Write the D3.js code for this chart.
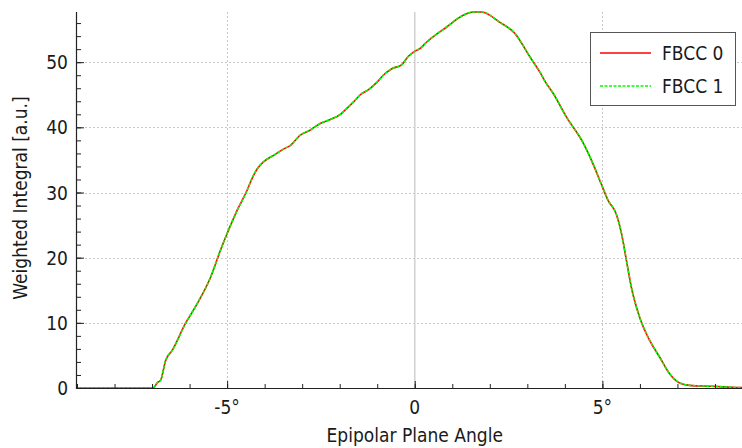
<!DOCTYPE html>
<html>
<head>
<meta charset="utf-8">
<script src="https://cdn.jsdelivr.net/npm/d3@7"></script>
<style>
  html, body { margin: 0; padding: 0; background: #fff; }
  svg { display: block; }
  text { font-family: "DejaVu Sans Condensed", "DejaVu Sans", sans-serif; font-stretch: condensed; fill: #1a1a1a; }
</style>
</head>
<body>
<svg id="chart" width="742" height="448"></svg>
<script>
// Epipolar plane angle (degrees)
const angles = [
  -9.00, -8.00, -7.50, -7.00, -6.95, -6.86, -6.77, -6.64, -6.46, -6.11,
  -5.80, -5.44, -5.18, -5.00, -4.73, -4.47, -4.34, -4.20, -4.03, -3.76,
  -3.49, -3.32, -3.05, -2.78, -2.52, -2.25, -1.98, -1.81, -1.63, -1.45,
  -1.23, -1.01, -0.84, -0.61, -0.35, -0.17, 0.01, 0.14, 0.32, 0.85,
  1.29, 1.56, 1.78, 2.27, 2.67, 3.07, 3.33, 3.51, 3.69, 4.04,
  4.48, 4.75, 4.97, 5.15, 5.37, 5.51, 5.64, 5.77, 5.99, 6.26,
  6.52, 6.79, 7.06, 7.32, 7.94, 8.65, 8.72
];

// Weighted integral per channel [a.u.]
const fbcc0 = [
  0, 0, 0, 0, 0.1, 0.8, 1.2, 4.2, 5.8, 9.9,
  12.9, 17.0, 21.1, 23.7, 27.3, 30.3, 32.1, 33.6, 34.7, 35.7,
  36.7, 37.2, 38.8, 39.6, 40.6, 41.2, 42.0, 42.9, 43.9, 45.0,
  45.8, 46.9, 48.0, 49.0, 49.6, 50.9, 51.7, 52.1, 53.1, 55.4,
  57.2, 57.7, 57.7, 56.1, 54.4, 50.8, 48.5, 46.7, 45.2, 41.6,
  37.7, 34.4, 31.3, 28.8, 26.7, 23.7, 19.6, 15.5, 10.9, 7.3,
  4.8, 2.2, 0.77, 0.41, 0.26, 0.06, 0.05
];
const fbcc1 = [
  0, 0, 0, 0, 0.1, 0.8, 1.2, 4.2, 5.8, 9.9,
  12.9, 17.0, 21.1, 23.7, 27.3, 30.3, 32.1, 33.6, 34.7, 35.7,
  36.7, 37.2, 38.8, 39.6, 40.6, 41.2, 42.0, 42.9, 43.9, 45.0,
  45.8, 46.9, 48.0, 49.0, 49.6, 50.9, 51.7, 52.1, 53.1, 55.4,
  57.2, 57.7, 57.7, 56.1, 54.4, 50.8, 48.5, 46.7, 45.2, 41.6,
  37.7, 34.4, 31.3, 28.8, 26.7, 23.7, 19.6, 15.5, 10.9, 7.3,
  4.8, 2.2, 0.77, 0.41, 0.26, 0.06, 0.05
];

const seriesNames = ["FBCC 0", "FBCC 1"];
const xMajorTicks = [-5, 0, 5];
const xTickLabels = ["-5°", "0", "5°"];
const yMajorTicks = [0, 10, 20, 30, 40, 50];

const svg = d3.select("#chart");
const plotLeft = 77, plotRight = 742, plotTop = 12, plotBottom = 388;

const x = d3.scaleLinear().domain([-9, 8.72]).range([plotLeft, plotRight]);
const y = d3.scaleLinear().domain([0, 57.7]).range([plotBottom, plotTop]);

// grid
const grid = svg.append("g");
grid.selectAll("line.hg").data(yMajorTicks.filter(v => v > 0)).join("line")
  .attr("x1", plotLeft).attr("x2", plotRight)
  .attr("y1", d => Math.round(y(d)) + 0.5).attr("y2", d => Math.round(y(d)) + 0.5)
  .attr("stroke", "#c8c8c8").attr("stroke-width", 1).attr("stroke-dasharray", "2,2");
grid.selectAll("line.vg").data(xMajorTicks.filter(v => v !== 0)).join("line")
  .attr("x1", d => Math.round(x(d)) + 0.5).attr("x2", d => Math.round(x(d)) + 0.5)
  .attr("y1", plotTop).attr("y2", plotBottom)
  .attr("stroke", "#c8c8c8").attr("stroke-width", 1).attr("stroke-dasharray", "2,2");
// zero line
grid.append("line")
  .attr("x1", x(0)).attr("x2", x(0)).attr("y1", plotTop).attr("y2", plotBottom)
  .attr("stroke", "#d2d2d2").attr("stroke-width", 1.6);

// curves
const pts0 = angles.map((a, i) => [a, fbcc0[i]]);
const pts1 = angles.map((a, i) => [a, fbcc1[i]]);
const line = d3.line().x(d => x(d[0])).y(d => y(d[1])).curve(d3.curveMonotoneX);

svg.append("path").attr("d", line(pts0))
  .attr("fill", "none").attr("stroke", "#ff0000").attr("stroke-width", 1.6);
svg.append("path").attr("d", line(pts1))
  .attr("fill", "none").attr("stroke", "#00ff00").attr("stroke-width", 1.6)
  .attr("stroke-dasharray", "3,1.5");

// axes (ticks pointing into the plot)
const xAxisMinor = d3.axisTop(x).tickValues(d3.range(-9, 9)).tickSize(4).tickFormat("");
const xAxisMajor = d3.axisTop(x).tickValues(xMajorTicks).tickSize(7).tickFormat("");
const gx1 = svg.append("g").attr("transform", `translate(0,${plotBottom})`).call(xAxisMinor);
const gx2 = svg.append("g").attr("transform", `translate(0,${plotBottom})`).call(xAxisMajor);
[gx1, gx2].forEach(g => {
  g.select(".domain").remove();
  g.selectAll(".tick line").attr("stroke", "#222");
});
svg.append("line").attr("x1", plotLeft).attr("x2", plotRight).attr("y1", plotBottom + 0.5).attr("y2", plotBottom + 0.5)
  .attr("stroke", "#222").attr("stroke-width", 1.2);

const yAxisMinor = d3.axisRight(y).tickValues(d3.range(0, 58, 2)).tickSize(4).tickFormat("");
const yAxisMajor = d3.axisRight(y).tickValues(yMajorTicks).tickSize(7).tickFormat("");
const gy1 = svg.append("g").attr("transform", `translate(${plotLeft},0)`).call(yAxisMinor);
const gy2 = svg.append("g").attr("transform", `translate(${plotLeft},0)`).call(yAxisMajor);
[gy1, gy2].forEach(g => {
  g.select(".domain").remove();
  g.selectAll(".tick line").attr("stroke", "#222");
});
svg.append("line").attr("x1", plotLeft - 0.5).attr("x2", plotLeft - 0.5).attr("y1", plotTop).attr("y2", plotBottom + 1)
  .attr("stroke", "#222").attr("stroke-width", 1.2);

// tick labels
svg.selectAll("text.xl").data(xMajorTicks).join("text")
  .attr("x", d => x(d)).attr("y", 414)
  .attr("text-anchor", "middle").attr("font-size", 19)
  .text((d, i) => xTickLabels[i]);
svg.selectAll("text.yl").data(yMajorTicks).join("text")
  .attr("x", 68).attr("y", d => y(d) + 7)
  .attr("text-anchor", "end").attr("font-size", 19)
  .text(d => d);

// axis titles
svg.append("text").attr("x", x(0)).attr("y", 442)
  .attr("text-anchor", "middle").attr("font-size", 19)
  .text("Epipolar Plane Angle");
svg.append("text").attr("transform", "translate(27,198) rotate(-90)")
  .attr("text-anchor", "middle").attr("font-size", 19)
  .text("Weighted Integral [a.u.]");

// legend
const lg = svg.append("g");
lg.append("rect").attr("x", 590.5).attr("y", 32.5).attr("width", 145).attr("height", 73)
  .attr("fill", "#fff").attr("stroke", "#555").attr("stroke-width", 1);
const legendStyles = [
  { color: "#ff0000", dash: null },
  { color: "#00ff00", dash: "3,1.5" }
];
seriesNames.forEach((name, i) => {
  const cy = 53 + i * 33;
  const l = lg.append("line").attr("x1", 600).attr("x2", 651).attr("y1", cy).attr("y2", cy)
    .attr("stroke", legendStyles[i].color).attr("stroke-width", 1.5);
  if (legendStyles[i].dash) l.attr("stroke-dasharray", legendStyles[i].dash);
  lg.append("text").attr("x", 662).attr("y", cy + 7).attr("font-size", 19).text(name);
});
</script>
</body>
</html>
